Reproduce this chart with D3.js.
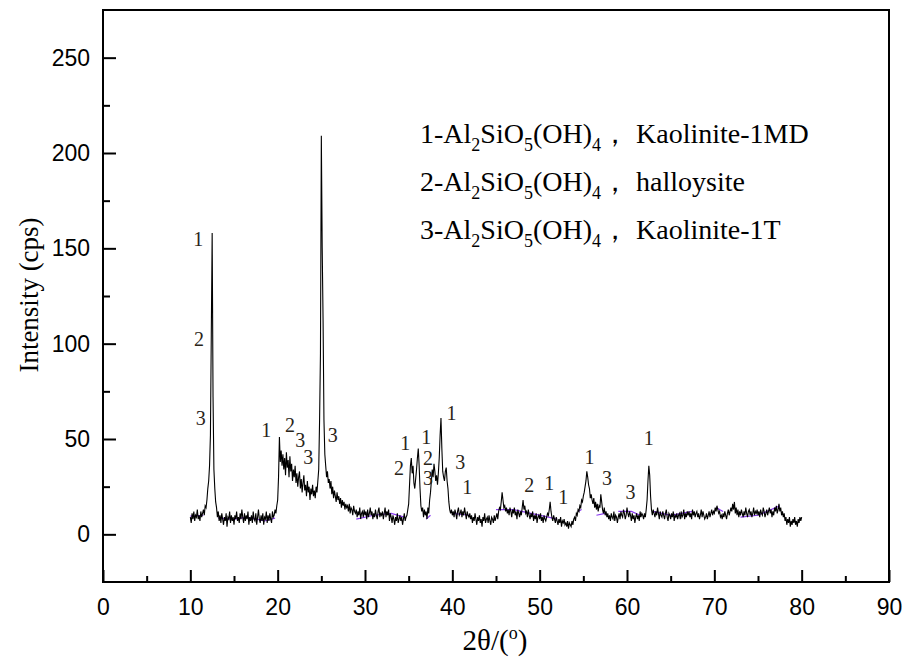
<!DOCTYPE html>
<html>
<head>
<meta charset="utf-8">
<script src="https://cdn.jsdelivr.net/npm/d3@7"></script>
<style>
  body { margin: 0; background: #fff; }
  .tick text { font-family: "Liberation Sans", Arial, sans-serif; font-size: 23px; fill: #000; }
  text.serif, .serif text { font-family: "Liberation Serif", "Times New Roman", "DejaVu Serif", serif; }
</style>
</head>
<body>
<script>
//scan settings: 2theta from 10 to 80 degrees, step 0.1
var scanStart = 10,
    scanStep = 0.1;

//intensity (cps), one row per degree (x.0 ... x.9)
var intensity = [
    9, 6, 11, 8, 12, 7, 10, 9, 13, 8,          //10
    10, 7, 12, 9, 11, 13, 10, 15, 14, 18,      //11
    24, 28, 36, 52, 105, 158, 72, 34, 24, 17,  //12
    14, 9, 12, 7, 10, 6, 11, 8, 5, 9,          //13
    7, 11, 4, 9, 8, 12, 6, 10, 7, 9,           //14
    5, 10, 8, 12, 7, 9, 6, 11, 8, 13,          //15
    9, 6, 11, 7, 10, 8, 12, 5, 9, 7,           //16
    10, 6, 12, 8, 7, 11, 5, 9, 13, 8,          //17
    6, 10, 7, 11, 5, 9, 8, 12, 6, 10,          //18
    7, 11, 8, 6, 12, 9, 10, 13, 11, 15,        //19
    18, 30, 51, 38, 44, 36, 42, 34, 40, 31,    //20
    43, 35, 39, 30, 41, 33, 37, 28, 34, 30,    //21
    36, 27, 32, 25, 30, 33, 24, 29, 22, 27,    //22
    31, 23, 26, 20, 28, 22, 25, 18, 24, 21,    //23
    26, 20, 23, 19, 25, 22, 28, 34, 60, 95,    //24
    209, 150, 112, 60, 42, 36, 30, 33, 27, 29, //25
    24, 28, 21, 25, 19, 23, 20, 17, 22, 18,    //26
    20, 16, 19, 14, 18, 15, 17, 13, 16, 14,    //27
    15, 12, 16, 11, 14, 13, 10, 15, 12, 11,    //28
    13, 9, 12, 10, 14, 8, 11, 12, 9, 13,       //29
    10, 12, 8, 13, 9, 11, 14, 10, 12, 8,       //30
    11, 9, 13, 10, 8, 12, 14, 9, 11, 10,       //31
    12, 8, 11, 14, 9, 12, 10, 13, 7, 11,       //32
    9, 6, 10, 8, 5, 9, 7, 11, 6, 8,            //33
    10, 7, 9, 5, 8, 11, 7, 9, 10, 13,          //34
    16, 26, 36, 40, 32, 36, 27, 24, 29, 34,    //35
    40, 45, 36, 24, 15, 12, 14, 9, 13, 10,     //36
    12, 8, 14, 11, 18, 22, 28, 34, 30, 37,     //37
    33, 28, 31, 26, 32, 40, 52, 61, 45, 33,    //38
    30, 28, 33, 35, 28, 24, 17, 13, 11, 13,    //39
    10, 12, 9, 13, 11, 8, 12, 14, 10, 11,      //40
    13, 9, 12, 10, 14, 11, 8, 12, 10, 9,       //41
    11, 8, 10, 6, 9, 7, 11, 8, 5, 9,           //42
    7, 10, 6, 8, 4, 9, 7, 11, 6, 8,            //43
    9, 6, 10, 7, 5, 9, 8, 6, 10, 7,            //44
    9, 11, 8, 12, 14, 13, 17, 22, 18, 14,      //45
    15, 12, 14, 11, 13, 10, 14, 12, 9, 13,     //46
    11, 14, 10, 12, 8, 13, 11, 9, 12, 10,      //47
    14, 18, 13, 15, 11, 12, 9, 13, 10, 8,      //48
    11, 9, 12, 7, 10, 8, 11, 6, 9, 10,         //49
    8, 11, 7, 9, 6, 10, 8, 7, 9, 11,           //50
    10, 13, 17, 12, 9, 7, 10, 8, 6, 9,         //51
    7, 5, 8, 6, 9, 4, 7, 6, 8, 5,              //52
    6, 4, 7, 3, 6, 5, 4, 7, 5, 8,              //53
    9, 7, 11, 10, 13, 12, 15, 14, 18, 17,      //54
    20, 22, 25, 28, 33, 30, 26, 24, 19, 21,    //55
    18, 16, 19, 14, 17, 13, 16, 12, 15, 14,    //56
    21, 17, 13, 11, 14, 10, 12, 9, 11, 8,      //57
    10, 7, 11, 9, 8, 12, 7, 10, 9, 6,          //58
    9, 11, 8, 12, 10, 9, 13, 11, 8, 10,        //59
    14, 11, 9, 12, 10, 7, 11, 8, 10, 6,        //60
    9, 11, 8, 10, 7, 12, 9, 11, 10, 8,         //61
    11, 9, 13, 18, 28, 36, 31, 20, 13, 10,     //62
    13, 11, 9, 12, 10, 14, 11, 8, 12, 10,      //63
    9, 12, 10, 8, 11, 13, 9, 7, 11, 10,        //64
    8, 11, 9, 12, 7, 10, 9, 11, 8, 10,         //65
    11, 8, 12, 9, 10, 13, 8, 11, 9, 12,        //66
    10, 12, 9, 11, 8, 13, 10, 12, 9, 11,       //67
    12, 9, 11, 8, 10, 13, 9, 12, 10, 8,        //68
    9, 11, 8, 10, 12, 9, 11, 13, 10, 12,       //69
    11, 14, 12, 15, 13, 11, 12, 9, 10, 8,      //70
    11, 9, 12, 10, 8, 11, 13, 10, 12, 14,      //71
    12, 16, 13, 17, 11, 14, 10, 13, 9, 12,     //72
    10, 13, 11, 9, 12, 10, 14, 11, 9, 12,      //73
    13, 10, 12, 9, 11, 14, 10, 12, 11, 13,     //74
    10, 12, 9, 13, 11, 10, 14, 12, 9, 11,      //75
    13, 10, 12, 14, 11, 13, 9, 12, 10, 14,     //76
    12, 15, 11, 13, 16, 12, 14, 10, 12, 9,     //77
    11, 7, 9, 5, 8, 6, 9, 4, 7, 5,             //78
    8, 6, 9, 5, 7, 4, 8, 6, 9, 7,              //79
    9                                          //80
];

//fitted background pieces (purple), [2theta, cps]
var baselines = [
    [[10, 9.5], [11.5, 10]],
    [[13.2, 8.5], [15, 8], [16.5, 9], [18.5, 7], [19.7, 8.5]],
    [[29, 8], [31, 10], [33, 11], [34.5, 9]],
    [[37, 8], [37.5, 10]],
    [[40, 11], [42, 10]],
    [[45, 13], [47, 13], [49, 11], [51, 9], [52, 8]],
    [[54.4, 12], [54.8, 13]],
    [[56.5, 10], [57.5, 11]],
    [[59, 12], [60.5, 12], [61.5, 10]],
    [[63, 12], [65, 10], [67.5, 12]],
    [[70.2, 14], [71, 12]],
    [[73, 9], [75, 10], [77.5, 15]]
];

//peak markers: phase number and where it is written
var peakPhase = ["1", "2", "3", "1", "2", "3", "3", "3",
                 "1", "2", "1", "2", "3", "1", "3", "1",
                 "2", "1", "1", "1", "3", "3", "1"];
var peakX = [10.9, 11.0, 11.2, 18.7, 21.4, 22.6, 23.5, 26.3,
             34.6, 33.9, 37.0, 37.2, 37.2, 39.9, 40.9, 41.7,
             48.8, 51.1, 52.7, 55.7, 57.7, 60.4, 62.5];
var peakY = [154.7, 102.3, 60.8, 54.5, 57.2, 49.3, 40.4, 51.9,
             47.7, 34.6, 50.9, 39.8, 29.4, 63.5, 37.8, 24.6,
             25.7, 26.7, 19.4, 40.4, 29.4, 22.0, 50.3];

//legend rows
var phaseNum = ["1", "2", "3"];
var phaseName = ["Kaolinite-1MD", "halloysite", "Kaolinite-1T"];

var xTicks = d3.range(0, 91, 10),
    xMinor = d3.range(5, 90, 10),
    yTicks = d3.range(0, 251, 50),
    yMinor = d3.range(25, 251, 50);

var width = 911,
    height = 661,
    margin = {top: 10, right: 22, bottom: 79, left: 103};

var svg = d3.select("body")
    .append("svg")
    .attr("width", width)
    .attr("height", height);

var x = d3.scaleLinear()
    .domain([0, 90])
    .range([margin.left, width - margin.right]);

var y = d3.scaleLinear()
    .domain([-25, 275])
    .range([height - margin.bottom, margin.top]);

//pattern points
var pattern = intensity.map(function(v, i){
    return [scanStart + i * scanStep, v];
});

var line = d3.line()
    .x(function(d){ return x(d[0]); })
    .y(function(d){ return y(d[1]); });

//background fits first, pattern over them
svg.selectAll(".base")
    .data(baselines)
    .enter()
    .append("path")
    .attr("class", "base")
    .attr("d", line)
    .attr("fill", "none")
    .attr("stroke", "#8a3cf0")
    .attr("stroke-width", 1.2);

svg.append("path")
    .datum(pattern)
    .attr("d", line)
    .attr("fill", "none")
    .attr("stroke", "#000")
    .attr("stroke-width", 1.1);

//axes, ticks point inward
svg.append("g")
    .attr("transform", "translate(0," + (height - margin.bottom) + ")")
    .call(d3.axisBottom(x).tickValues(xTicks).tickSize(-12).tickPadding(17));
svg.append("g")
    .attr("transform", "translate(0," + (height - margin.bottom) + ")")
    .call(d3.axisBottom(x).tickValues(xMinor).tickSize(-6).tickFormat(""));

svg.append("g")
    .attr("transform", "translate(" + margin.left + ",0)")
    .call(d3.axisLeft(y).tickValues(yTicks).tickSize(-13).tickPadding(13));
svg.append("g")
    .attr("transform", "translate(" + margin.left + ",0)")
    .call(d3.axisLeft(y).tickValues(yMinor).tickSize(-7).tickFormat(""));

svg.selectAll(".domain").remove();
svg.selectAll(".tick line").attr("stroke", "#000").attr("stroke-width", 2);

//frame
svg.append("rect")
    .attr("x", margin.left)
    .attr("y", margin.top)
    .attr("width", width - margin.left - margin.right)
    .attr("height", height - margin.top - margin.bottom)
    .attr("fill", "none")
    .attr("stroke", "#000")
    .attr("stroke-width", 2);

//peak numbers
svg.selectAll(".peak")
    .data(peakPhase)
    .enter()
    .append("text")
    .attr("class", "peak serif")
    .attr("x", function(d, i){ return x(peakX[i]); })
    .attr("y", function(d, i){ return y(peakY[i]); })
    .attr("dy", "0.35em")
    .attr("text-anchor", "middle")
    .style("font-size", "20px")
    .style("fill", "#2a2418")
    .text(function(d){ return d; });

//legend
var legend = svg.selectAll(".legend")
    .data(phaseNum)
    .enter()
    .append("g")
    .attr("class", "legend serif")
    .attr("transform", function(d, i){ return "translate(420," + (143 + i * 48) + ")"; })
    .style("font-size", "28px")
    .style("fill", "#000");

var formula = legend.append("text");
formula.append("tspan").text(function(d){ return d + "-Al"; });
formula.append("tspan").attr("dy", 8).style("font-size", "18px").text("2");
formula.append("tspan").attr("dy", -8).text("SiO");
formula.append("tspan").attr("dy", 8).style("font-size", "18px").text("5");
formula.append("tspan").attr("dy", -8).text("(OH)");
formula.append("tspan").attr("dy", 8).style("font-size", "18px").text("4");
formula.append("tspan").attr("dy", -8).text("，");

legend.append("text")
    .attr("x", 216)
    .text(function(d, i){ return phaseName[i]; });

//axis titles
svg.append("text")
    .attr("class", "serif")
    .attr("transform", "translate(38," + 295 + ")rotate(-90)")
    .attr("text-anchor", "middle")
    .style("font-size", "27px")
    .text("Intensity (cps)");

var xTitle = svg.append("text")
    .attr("class", "serif")
    .attr("x", 495)
    .attr("y", 650)
    .attr("text-anchor", "middle")
    .style("font-size", "29px");
xTitle.append("tspan").text("2θ/(");
xTitle.append("tspan").attr("dy", -11).style("font-size", "18px").text("o");
xTitle.append("tspan").attr("dy", 11).text(")");
</script>
</body>
</html>
